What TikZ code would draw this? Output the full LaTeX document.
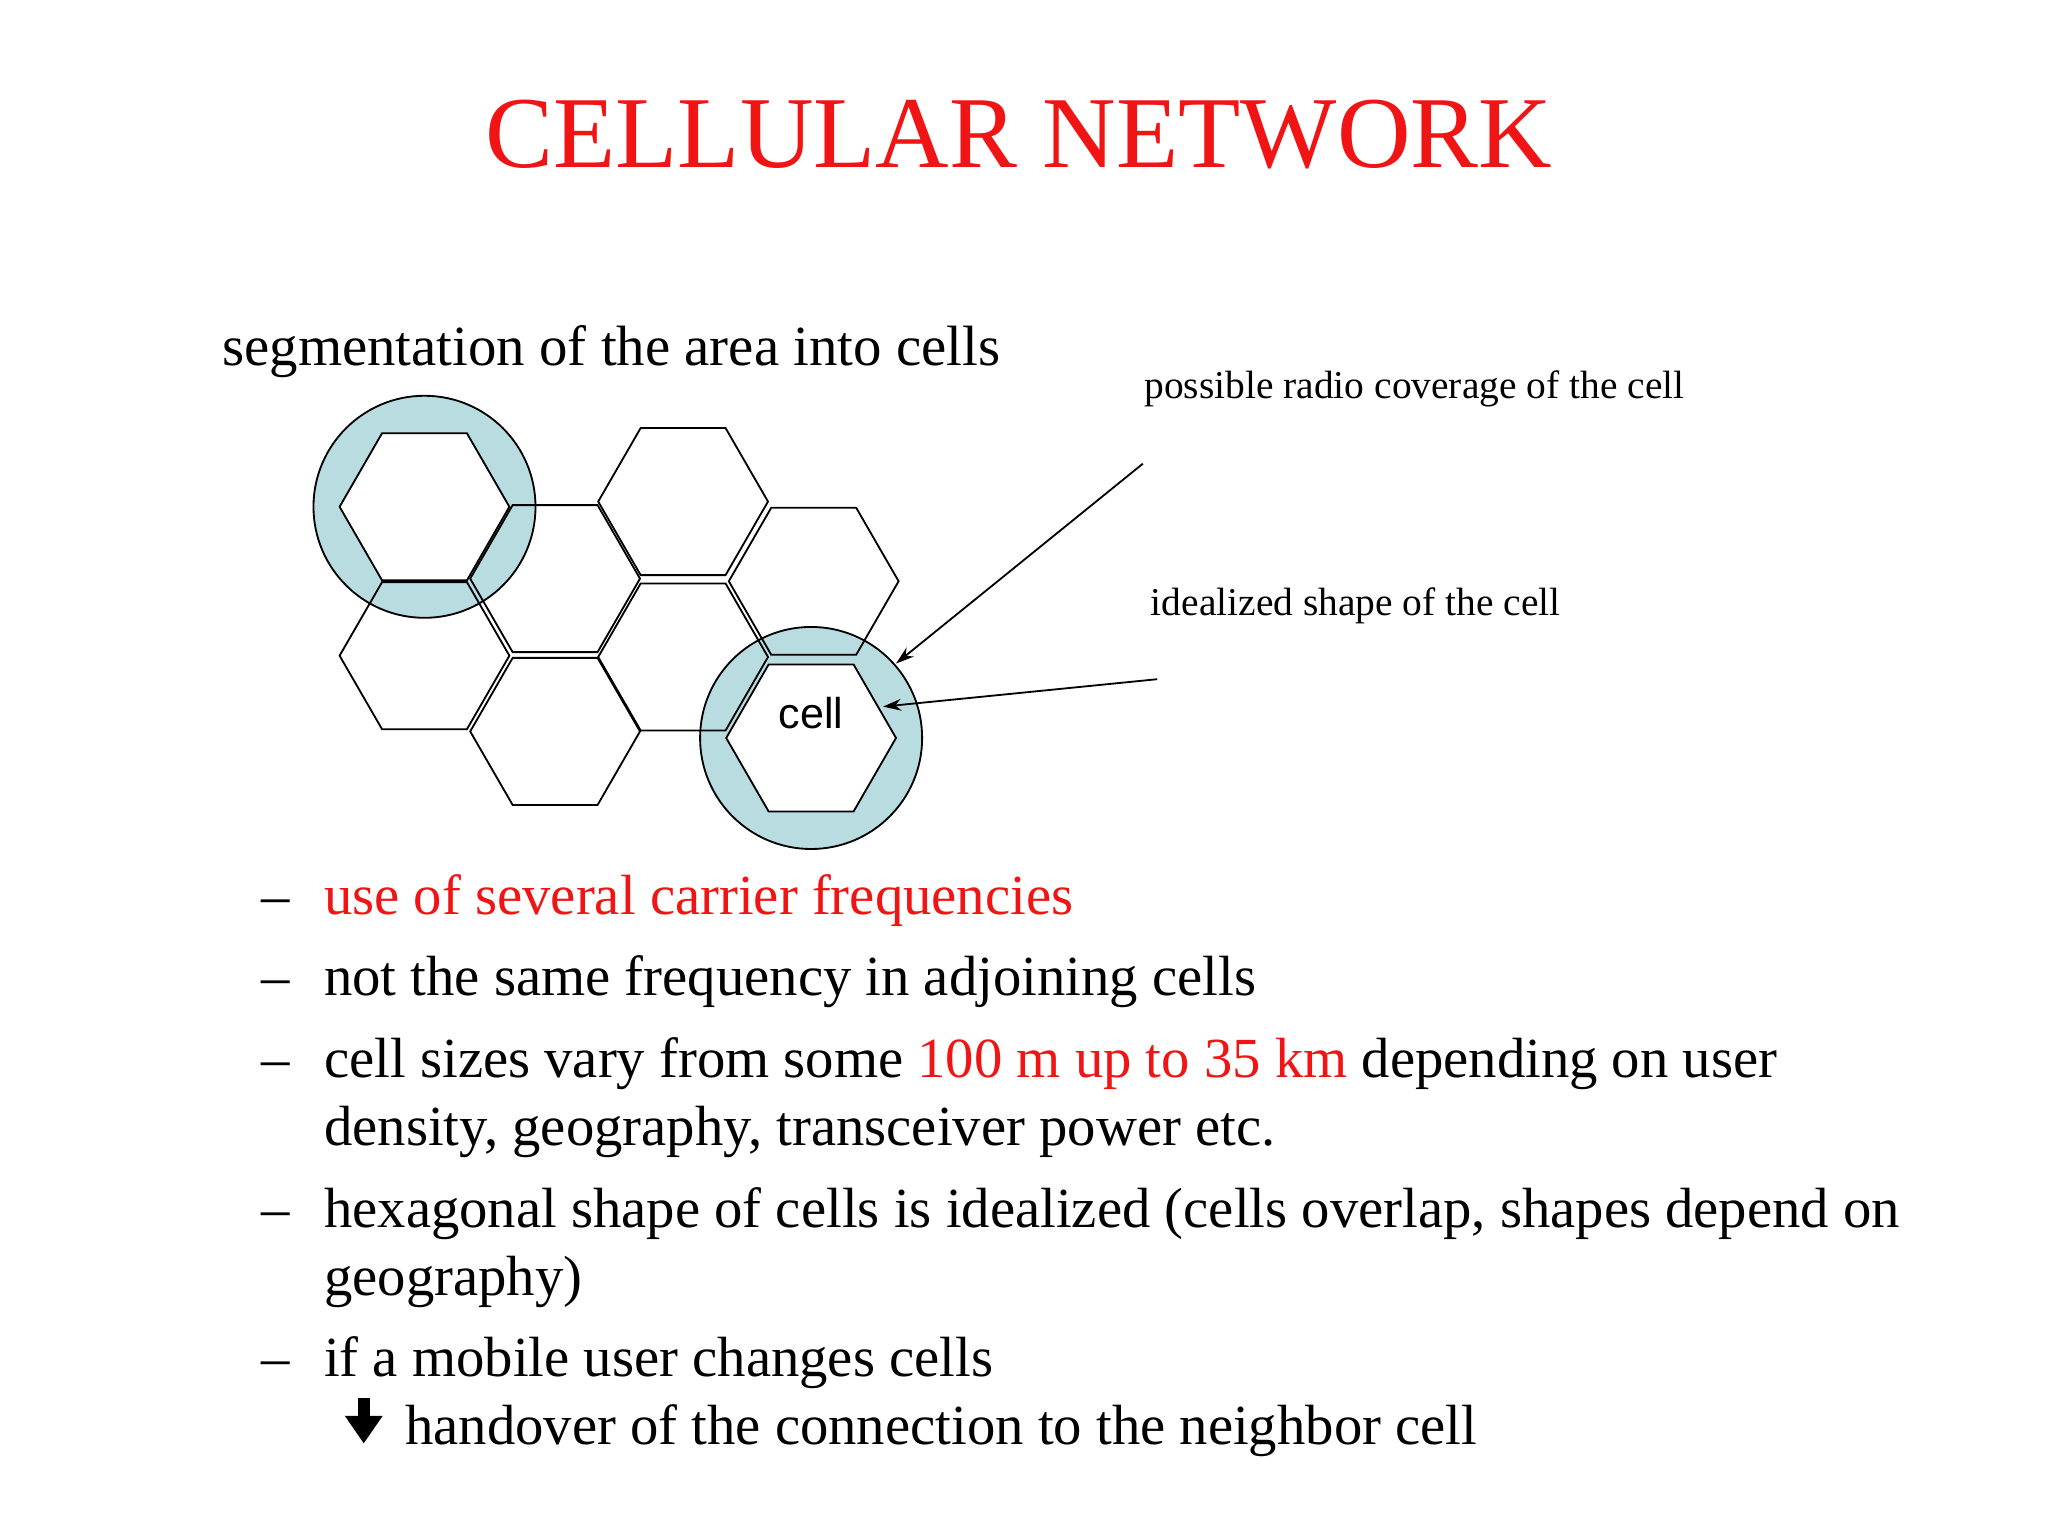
\documentclass[tikz,border=0pt]{standalone}
\usepackage{fontspec}
\setmainfont{Liberation Serif}
\newfontfamily\cellfont{Liberation Sans}
\usetikzlibrary{arrows.meta}
\definecolor{cov}{RGB}{184,220,224}
\definecolor{tred}{RGB}{240,20,20}
\tikzset{
 hexa/.style={draw,line width=1.4pt},
 covc/.style={draw,line width=1.4pt,fill=cov},
 txt/.style={anchor=base west,inner sep=0pt,font=\fontsize{43.4}{48}\selectfont},
 lbl/.style={anchor=base west,inner sep=0pt,font=\fontsize{30.2}{34}\selectfont},
 arr/.style={-{Stealth[length=14pt,width=9pt]},line width=1.4pt}
}
\newcommand{\hexat}[3][]{\draw[hexa,#1] (#2+65,#3)--(#2+32.5,#3+56.3)--(#2-32.5,#3+56.3)--(#2-65,#3)--(#2-32.5,#3-56.3)--(#2+32.5,#3-56.3)--cycle;}
\begin{document}
\begin{tikzpicture}[x=1pt,y=-1pt]
\useasboundingbox (0,0) rectangle (1568,1176);
\node[font=\fontsize{78}{84}\selectfont,text=tred] (title) at (780,103) {CELLULAR NETWORK};
\node[txt,font=\fontsize{43.5}{48}\selectfont] (seg) at (170,280) {segmentation of the area into cells};
\draw[covc] (325,388) circle (85);
\draw[covc] (621,565) circle (85);
\hexat{325}{502}
\hexat{425}{560}
\hexat{523}{384}
\hexat{623}{445}
\hexat{523}{503}
\hexat{425}{443}
\hexat[fill=white]{325}{388}
\hexat[fill=white]{621}{565}
\node[font=\cellfont\fontsize{33}{36}\selectfont] (cell) at (621,546) {cell};
\node[lbl] (l1) at (876,305) {possible radio coverage of the cell};
\node[lbl] (l2) at (881,471) {idealized shape of the cell};
\coordinate (a1) at (875,355); \coordinate (a1e) at (686,508);
\coordinate (a2) at (886,520); \coordinate (a2e) at (676,541);
\draw[arr] (a1) -- (a1e);
\draw[arr] (a2) -- (a2e);
\foreach \y in {700,762,825,940,1054} \node[txt] at (200,\y) {–};
\node[txt,text=tred] (b1) at (248,700) {use of several carrier frequencies};
\node[txt] (b2) at (248,762) {not the same frequency in adjoining cells};
\node[txt] (b3) at (248,825) {cell sizes vary from some \textcolor{tred}{100 m up to 35 km} depending on user};
\node[txt] (b3b) at (248,877) {density, geography, transceiver power etc.};
\node[txt] (b4) at (248,940) {hexagonal shape of cells is idealized (cells overlap, shapes depend on};
\node[txt] (b4b) at (248,992) {geography)};
\node[txt] (b5) at (248,1054) {if a mobile user changes cells};
\node[txt] (b6) at (310,1106) {handover of the connection to the neighbor cell};
\fill (274,1070) rectangle (283,1090);
\fill (264,1084) -- (293,1084) -- (278.5,1105) -- cycle;
\end{tikzpicture}
\end{document}
